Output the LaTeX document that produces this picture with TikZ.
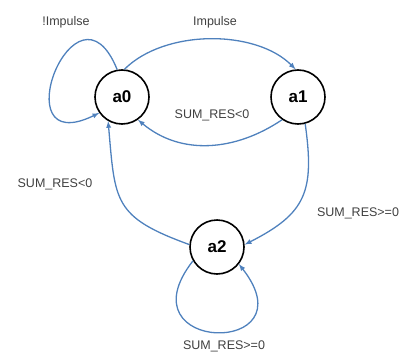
\documentclass[tikz,border=0pt]{standalone}
\usepackage{fontspec}
\setmainfont{Liberation Sans}
\usetikzlibrary{arrows,positioning}
\definecolor{edgeblue}{RGB}{79,129,189}
\definecolor{labelgray}{RGB}{64,64,64}

\begin{document}
\begin{tikzpicture}[x=1pt,y=1pt,>=latex,
    state/.style={circle,draw=black,line width=1.6pt,minimum size=54pt,inner sep=0pt,font=\fontsize{17}{17}\selectfont\bfseries},
    trans/.style={->,draw=edgeblue,line width=1.3pt},
    lbl/.style={text=labelgray,font=\fontsize{12.5}{14}\selectfont,inner sep=0pt}]
    \useasboundingbox (0,0) rectangle (403,354);

    \node[state] (a0) at (122,257) {a0};
    \node[state, right = 120.4pt of a0] (a1) {a1};
    \node[state] (a2) at (217,107) {a2};

    \draw[trans] (a0.100) to[out=112,in=206,min distance=110pt] (a0.215);
    \draw[trans] (a0.85) to[out=45,in=135,looseness=0.85] (a1.95);
    \draw[trans] (a1.235) to[out=214,in=-40] (a0.-55);
    \draw[trans] (a2.175) to[out=160,in=-85,looseness=1.4] (a0.240);
    \draw[trans] (a1.-75) to[out=-82,in=27,looseness=1.3] (a2.5);
    \draw[trans] (a2.210) to[out=232,in=-52,min distance=118pt] (a2.-38);

    \node[lbl] (l00) at (66,332) {!Impulse};
    \node[lbl] (l01) at (215,332) {Impulse};
    \node[lbl] (l10) at (212,239) {SUM\_RES<0};
    \node[lbl] (l20) at (55,170) {SUM\_RES<0};
    \node[lbl] (l12) at (358,141) {SUM\_RES>=0};
    \node[lbl] (l22) at (224,8) {SUM\_RES>=0};
\end{tikzpicture}
\end{document}
